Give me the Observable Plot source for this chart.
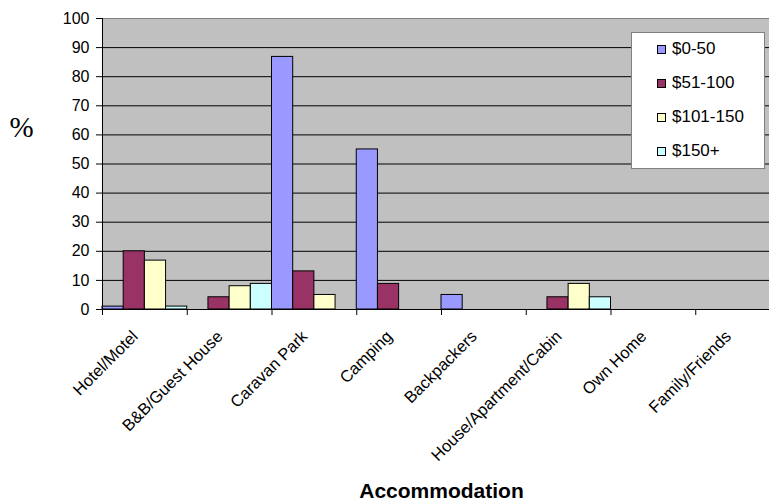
<!DOCTYPE html>
<html><head><meta charset="utf-8">
<script src="https://cdn.jsdelivr.net/npm/d3@7"></script>
<script src="https://cdn.jsdelivr.net/npm/@observablehq/plot@0.6"></script>
<style>
html,body{margin:0;padding:0;background:#fff;overflow:hidden;}
#wrap{position:relative;width:769px;height:501px;overflow:hidden;}
#legend{position:absolute;left:631px;top:32px;width:134px;height:137px;background:#fff;border:1px solid #808080;font-family:"Liberation Sans",Arial,sans-serif;font-size:17px;color:#000;box-sizing:border-box;}
.item{position:absolute;left:25px;height:18px;display:flex;align-items:center;white-space:nowrap;}
.sw{width:7px;height:7px;border:1px solid #000;margin-right:6px;}
</style></head>
<body><div id="wrap"><div id="chart"></div><div id="legend"></div></div>
<script>
const categories = ["Hotel/Motel", "B&B/Guest House", "Caravan Park", "Camping", "Backpackers", "House/Apartment/Cabin", "Own Home", "Family/Friends"];
const series = ["$0-50", "$51-100", "$101-150", "$150+"];
const seriesColors = ["#9999FF", "#993366", "#FFFFCC", "#CCFFFF"];
const values0to50    = [1.0, 0, 86.8, 55.0, 5.0, 0, 0, 0];
const values51to100  = [20.0, 4.2, 13.1, 8.8, 0, 4.2, 0, 0];
const values101to150 = [16.8, 8.0, 5.0, 0, 0, 8.8, 0, 0];
const values150plus  = [1.0, 8.8, 0, 0, 0, 4.2, 0, 0];
const yTicks = [0, 10, 20, 30, 40, 50, 60, 70, 80, 90, 100];
const xLabel = "Accommodation";
const yLabel = "%";

const seriesValues = [values0to50, values51to100, values101to150, values150plus];
const data = [];
categories.forEach((c, ci) => series.forEach((s, si) => {
  const v = seriesValues[si][ci];
  if (v > 0) data.push({category: c, ci, series: s, si, value: v});
}));

const font = '"Liberation Sans", Arial, sans-serif';
const chart = Plot.plot({
  width: 769, height: 501,
  marginLeft: 102, marginRight: -11, marginTop: 18, marginBottom: 192,
  style: {fontFamily: font, background: "transparent", color: "#000"},
  x: {domain: [0, categories.length], axis: null},
  y: {domain: [0, 100], axis: null},
  color: {domain: series, range: seriesColors},
  marks: [
    Plot.frame({fill: "#C0C0C0"}),
    Plot.ruleY(yTicks.slice(1, -1), {stroke: "#000"}),
    Plot.ruleY([100], {stroke: "#808080"}),
    Plot.rectY(data, {
      x1: d => d.ci + d.si / series.length,
      x2: d => d.ci + (d.si + 1) / series.length,
      y1: 0, y2: "value", fill: "series", stroke: "#000", strokeWidth: 1
    }),
    Plot.axisY({ticks: yTicks, tickSize: 6, tickPadding: 7, fontSize: 16, label: null}),
    Plot.ruleX([0], {stroke: "#000"}),
    Plot.ruleY([0], {stroke: "#000"}),
    Plot.axisX({ticks: d3.range(0, categories.length + 1), tickFormat: () => "", tickSize: 6, label: null}),
    Plot.text(categories, {x: (d, i) => i + 0.5, text: d => d, frameAnchor: "bottom", rotate: -45, textAnchor: "end", dx: -6, dy: 28, fontSize: 16.5}),
    Plot.text([xLabel], {text: d => d, frameAnchor: "bottom", lineAnchor: "bottom", dy: 188, fontSize: 21, fontWeight: "bold"}),
    Plot.text([yLabel], {text: d => d, frameAnchor: "top-left", lineAnchor: "bottom", textAnchor: "middle", dx: -81, dy: 118, fontSize: 29, fontFamily: '"Liberation Serif", "Times New Roman", serif'})
  ]
});
document.getElementById("chart").appendChild(chart);

const legend = document.getElementById("legend");
series.forEach((s, i) => {
  const item = document.createElement("div");
  item.className = "item";
  item.style.top = (7 + i * 34) + "px";
  const sw = document.createElement("span");
  sw.className = "sw";
  sw.style.background = seriesColors[i];
  const t = document.createElement("span");
  t.textContent = s;
  item.appendChild(sw); item.appendChild(t);
  legend.appendChild(item);
});
</script>
</body></html>
